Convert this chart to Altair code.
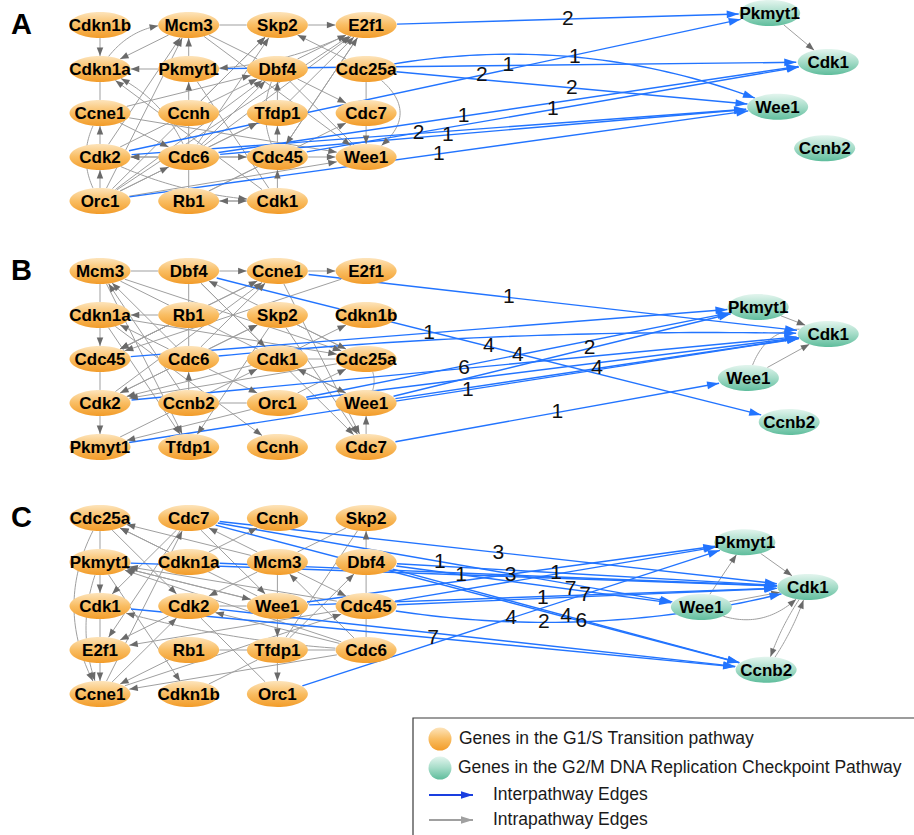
import math
import altair as alt
import pandas as pd

# ---------------------------------------------------------------------------
# Gene layout: G1/S genes sit in a grid (rows top to bottom, columns left to
# right); G2/M checkpoint genes sit to the right at fractional grid positions.
# ---------------------------------------------------------------------------
A_GRID = [
    ["Cdkn1b", "Mcm3", "Skp2", "E2f1"],
    ["Cdkn1a", "Pkmyt1", "Dbf4", "Cdc25a"],
    ["Ccne1", "Ccnh", "Tfdp1", "Cdc7"],
    ["Cdk2", "Cdc6", "Cdc45", "Wee1"],
    ["Orc1", "Rb1", "Cdk1"],
]
B_GRID = [
    ["Mcm3", "Dbf4", "Ccne1", "E2f1"],
    ["Cdkn1a", "Rb1", "Skp2", "Cdkn1b"],
    ["Cdc45", "Cdc6", "Cdk1", "Cdc25a"],
    ["Cdk2", "Ccnb2", "Orc1", "Wee1"],
    ["Pkmyt1", "Tfdp1", "Ccnh", "Cdc7"],
]
C_GRID = [
    ["Cdc25a", "Cdc7", "Ccnh", "Skp2"],
    ["Pkmyt1", "Cdkn1a", "Mcm3", "Dbf4"],
    ["Cdk1", "Cdk2", "Wee1", "Cdc45"],
    ["E2f1", "Rb1", "Tfdp1", "Cdc6"],
    ["Ccne1", "Cdkn1b", "Orc1"],
]

RIGHT_GENES = ["Pkmyt1", "Cdk1", "Wee1", "Ccnb2"]
A_RIGHT_COL = [7.55, 8.21, 7.64, 8.17]
A_RIGHT_ROW = [-0.27, 0.84, 1.86, 2.80]
B_RIGHT_COL = [7.42, 8.21, 7.31, 7.77]
B_RIGHT_ROW = [0.82, 1.43, 2.43, 3.43]
C_RIGHT_COL = [7.27, 7.98, 6.78, 7.51]
C_RIGHT_ROW = [0.55, 1.57, 2.02, 3.45]

# ---------------------------------------------------------------------------
# Edges: "Src>Dst" directed, "Src-Dst" undirected, "@n" bends the edge.
# A leading "*" marks a G2/M checkpoint gene.
# ---------------------------------------------------------------------------
A_INTRA = [
    "Cdkn1b>Cdkn1a", "Mcm3-Skp2", "Skp2>E2f1", "Pkmyt1>Mcm3", "Pkmyt1>Cdkn1a",
    "Cdkn1a>Mcm3@-16", "Cdk2>Mcm3", "Orc1>Mcm3", "Mcm3>Cdkn1a", "Cdc6>Cdkn1a@14",
    "Mcm3-Dbf4", "Mcm3>Wee1", "Ccnh>Pkmyt1", "Ccnh>Skp2", "Cdc6>Skp2",
    "E2f1>Pkmyt1@-12", "Cdc25a>Skp2", "Dbf4>E2f1", "Tfdp1>E2f1", "Cdc6>E2f1",
    "Cdc45>E2f1", "Orc1>E2f1", "E2f1>Cdc45", "Dbf4>Cdc7", "Dbf4-Wee1",
    "Cdc25a-Cdc7", "Cdc7>Wee1", "Cdc25a>Wee1@-34", "Rb1>Cdc7", "Tfdp1>Dbf4",
    "Cdc45>Tfdp1", "Cdc6>Dbf4", "Orc1>Dbf4", "Cdk2>Dbf4", "Dbf4-Cdc45@12",
    "Ccne1>Dbf4", "Cdc6>Tfdp1", "Ccne1>Wee1", "Cdk2>Ccne1", "Ccne1-Orc1@14",
    "Cdkn1a-Ccne1", "Cdk1>Cdkn1a", "Pkmyt1-Cdk1", "Ccnh-Cdc6", "Orc1>Cdc6",
    "Cdc6>Cdc45", "Cdc45>Wee1", "Orc1>Wee1", "Cdc6>Cdk2", "Cdc45>Cdk2",
    "Orc1>Cdk2", "Rb1>Cdk1", "Cdk1>Rb1", "Cdk1>Cdc45", "Rb1-Cdc6",
    "Rb1-Cdc45", "Orc1>Tfdp1", "Orc1>Skp2", "Cdk2>Cdk1@10", "Ccne1>Cdc6",
    "*Pkmyt1>*Cdk1",
]
A_INTER = [
    "E2f1>*Pkmyt1", "Cdk2>*Pkmyt1", "Pkmyt1>*Cdk1", "Cdc25a>*Wee1@-31",
    "Cdc25a>*Wee1", "Cdc6>*Cdk1", "Cdc45>*Cdk1", "Cdk2>*Wee1",
    "Cdc6>*Wee1", "Orc1>*Wee1",
]
A_WEIGHT = ["2", "2", "1", "1", "2", "1", "1", "2", "1", "1"]
A_LABEL_AT = [0.5, 0.57, 0.5, 0.5, 0.5, 0.43, 0.5, 0.47, 0.44, 0.5]

B_INTRA = [
    "Mcm3-Dbf4", "Dbf4>Ccne1", "Ccne1>E2f1", "Mcm3-Cdkn1a", "Cdkn1a>Cdc45",
    "Cdc45-Cdk2", "Cdk2>Pkmyt1", "Rb1>Cdkn1a", "Dbf4-Rb1", "Rb1-Cdc6",
    "Mcm3>Cdc25a", "Cdkn1a>Cdc25a", "Cdc6>Mcm3", "Ccnb2>Mcm3", "Dbf4>Cdk1",
    "Dbf4>Cdc7", "Cdc25a>Dbf4", "Cdc45>Ccne1", "Cdc6>Ccne1", "Cdk2>Ccne1",
    "Ccne1>Cdc45", "E2f1>Cdc45", "Cdk2>Skp2", "Skp2>Tfdp1", "Skp2>Cdc7",
    "Ccne1>Cdc7", "Cdk1>Cdkn1b", "Cdk1-Cdc25a", "Wee1>Cdk1", "Cdc6>Orc1",
    "Ccnb2>Cdc6", "Cdc6>Cdk2", "Cdk1>Cdk2", "Cdc25a>Cdk2", "Ccnb2-Orc1",
    "Cdkn1a>Tfdp1", "Cdkn1a>Ccnh", "Orc1>Pkmyt1", "Pkmyt1>Cdk1", "Cdc7>Wee1",
    "Cdc25a-Wee1@-8", "Cdc6>Cdkn1a", "Mcm3>Tfdp1", "Rb1>Cdc45", "Orc1>Cdc25a",
    "Mcm3>Wee1", "Cdc6>Skp2", "Skp2>Cdc25a",
    "*Pkmyt1>*Cdk1", "*Wee1>*Cdk1", "*Wee1-*Cdk1@-24",
]
B_INTER = [
    "Ccne1>*Cdk1", "Dbf4>*Ccnb2", "Cdc45>*Pkmyt1", "Wee1>*Pkmyt1",
    "Cdk2>*Cdk1", "Orc1>*Pkmyt1", "Wee1>*Cdk1", "Pkmyt1>*Cdk1",
    "Cdc7>*Wee1", "Cdc6>*Cdk1@-10", "Orc1>*Cdk1",
]
B_WEIGHT = ["1", "4", "1", "2", "6", "4", "4", "1", "1", "", ""]
B_LABEL_AT = [0.42, 0.5, 0.5, 0.57, 0.5, 0.5, 0.5, 0.505, 0.5, 0.5, 0.5]

C_INTRA = [
    "Cdc25a-Pkmyt1", "Pkmyt1>Cdk1", "Cdk1-E2f1", "E2f1>Ccne1", "Cdc25a>Ccne1@26",
    "Pkmyt1>Ccne1@14", "Cdkn1a>Cdc25a", "Mcm3>Cdc25a", "Wee1>Cdc25a", "Cdc25a>Cdk2",
    "Pkmyt1>Cdkn1b", "Cdc7>Cdk1", "Ccne1>Cdc7", "Cdc7>Wee1", "Mcm3>Cdc7",
    "Cdkn1a>Ccnh", "Skp2-Mcm3", "Skp2-Tfdp1", "Dbf4>Skp2", "Dbf4-Cdc45",
    "Cdc45-Cdc6", "Mcm3-Wee1", "Mcm3>Cdc45", "Mcm3>Cdk2", "Wee1>Pkmyt1",
    "Cdc45>Pkmyt1", "Cdc6>Pkmyt1", "Cdk2-Wee1", "Cdk2-Orc1", "Wee1>Tfdp1",
    "Tfdp1>Orc1", "Cdc6>Mcm3", "Cdc6>Cdk2", "Cdc6>Cdk1@-8", "Cdc45>E2f1",
    "Ccne1>Cdc45", "Ccne1>Cdk2", "Cdc6>Ccne1", "Rb1>Ccne1", "Tfdp1>Dbf4",
    "Rb1-Cdc6", "Cdkn1b-Tfdp1", "Cdc7>E2f1", "Pkmyt1>Wee1", "Cdk2>E2f1",
    "*Wee1>*Pkmyt1", "*Pkmyt1>*Cdk1", "*Wee1>*Cdk1", "*Wee1>*Cdk1@22",
    "*Cdk1>*Ccnb2@4", "*Ccnb2>*Cdk1@4",
]
C_INTER = [
    "Cdc7>*Cdk1", "Cdc7>*Wee1", "Pkmyt1>*Cdk1", "Cdkn1a>*Cdk1",
    "Dbf4>*Cdk1", "Dbf4>*Wee1", "Wee1>*Cdk1", "Cdc45>*Cdk1",
    "Orc1>*Pkmyt1", "Cdc45>*Cdk1@25", "Dbf4>*Ccnb2", "Cdc7>*Ccnb2",
    "Cdk1>*Ccnb2", "Wee1>*Pkmyt1", "Cdc45>*Pkmyt1", "Cdk2>*Ccnb2",
]
C_WEIGHT = ["3", "1", "1", "3", "1", "7", "7", "1", "4", "2", "4", "6", "7",
            "", "", ""]
C_LABEL_AT = [0.5, 0.49, 0.51, 0.52, 0.43, 0.61, 0.58, 0.4, 0.5, 0.4, 0.5,
              0.68, 0.5, 0.5, 0.5, 0.5]

LEGEND_TEXT = [
    "Genes in the G1/S Transition pathway",
    "Genes in the G2/M DNA Replication Checkpoint Pathway",
    "Interpathway Edges",
    "Intrapathway Edges",
]

# ---------------------------------------------------------------------------
# Drawing geometry
# ---------------------------------------------------------------------------
W, H = 914, 835
X0, COL_W, ROW_H = 100.0, 88.7, 44.0
PANEL_TOP = {"A": 25.0, "B": 271.0, "C": 518.0}
RX, RY = 30.5, 13.0  # node ellipse half axes

BLUE = "#2274ff"
LEGEND_BLUE = "#1a3fe0"
GRAY_LINE = "#9f9f9f"
GRAY_HEAD = "#6a6a6a"
FONT = "Liberation Sans"

ORANGE_FILL = alt.LinearGradient(
    gradient="linear", x1=0, x2=0, y1=0, y2=1,
    stops=[alt.GradientStop(color="#fde4bb", offset=0),
           alt.GradientStop(color="#f9bd62", offset=0.5),
           alt.GradientStop(color="#f29c2a", offset=1)])
TEAL_FILL = alt.LinearGradient(
    gradient="linear", x1=0, x2=0, y1=0, y2=1,
    stops=[alt.GradientStop(color="#e3f5ee", offset=0),
           alt.GradientStop(color="#a5dcc8", offset=0.5),
           alt.GradientStop(color="#5fbd9c", offset=1)])


def ellipse_path(ratio):
    k = 0.5523
    r = ratio
    return (f"M1,0 C1,{k*r:.4f} {k},{r:.4f} 0,{r:.4f} "
            f"C{-k},{r:.4f} -1,{k*r:.4f} -1,0 "
            f"C-1,{-k*r:.4f} {-k},{-r:.4f} 0,{-r:.4f} "
            f"C{k},{-r:.4f} 1,{-k*r:.4f} 1,0 Z")


NODE_SHAPE = ellipse_path(RY / RX)
NODE_SIZE = (2 * RX) ** 2
BLUE_HEAD = "M0,0 L-1,-0.32 L-1,0.32 Z"
GRAY_HEAD_SHAPE = "M0,0 L-1,-0.38 L-1,0.38 Z"

panels = [
    ("A", A_GRID, A_RIGHT_COL, A_RIGHT_ROW, A_INTRA, A_INTER, A_WEIGHT, A_LABEL_AT),
    ("B", B_GRID, B_RIGHT_COL, B_RIGHT_ROW, B_INTRA, B_INTER, B_WEIGHT, B_LABEL_AT),
    ("C", C_GRID, C_RIGHT_COL, C_RIGHT_ROW, C_INTRA, C_INTER, C_WEIGHT, C_LABEL_AT),
]

node_rows = []
pos = {}
for p, grid, rcol, rrow, *_ in panels:
    for r, genes in enumerate(grid):
        for c, g in enumerate(genes):
            x, y = X0 + c * COL_W, PANEL_TOP[p] + r * ROW_H
            pos[(p, g)] = (x, y)
            node_rows.append(dict(panel=p, gene=g, pathway="G1/S", x=x, y=y))
    for g, c, r in zip(RIGHT_GENES, rcol, rrow):
        x, y = X0 + c * COL_W, PANEL_TOP[p] + r * ROW_H
        pos[(p, "*" + g)] = (x, y)
        node_rows.append(dict(panel=p, gene=g, pathway="G2/M", x=x, y=y))
nodes = pd.DataFrame(node_rows)


def parse(spec):
    bend = 0.0
    if "@" in spec:
        spec, b = spec.split("@")
        bend = float(b)
    directed = ">" in spec
    src, dst = spec.split(">" if directed else "-")
    return src, dst, directed, bend


def bez(p0, c, p2, t):
    u = 1 - t
    return (u * u * p0[0] + 2 * u * t * c[0] + t * t * p2[0],
            u * u * p0[1] + 2 * u * t * c[1] + t * t * p2[1])


def inside(pt, ctr):
    return ((pt[0] - ctr[0]) / RX) ** 2 + ((pt[1] - ctr[1]) / RY) ** 2 < 1


line_rows, head_rows, label_rows = [], [], []
eid = 0
for p, grid, rcol, rrow, intra, inter, weights, label_at in panels:
    specs = [(s, "intra", "", 0.5) for s in intra]
    specs += [(s, "inter", w, t) for s, w, t in zip(inter, weights, label_at)]
    for spec, kind, weight, t_lab in specs:
        src, dst, directed, bend = parse(spec)
        p0, p2 = pos[(p, src)], pos[(p, dst)]
        dx, dy = p2[0] - p0[0], p2[1] - p0[1]
        length = math.hypot(dx, dy)
        nx, ny = -dy / length, dx / length
        ctrl = ((p0[0] + p2[0]) / 2 + 2 * bend * nx, (p0[1] + p2[1]) / 2 + 2 * bend * ny)
        n = 300
        pts = [bez(p0, ctrl, p2, i / n) for i in range(n + 1)]
        i0 = next(i for i, q in enumerate(pts) if not inside(q, p0))
        i1 = max(i for i, q in enumerate(pts) if not inside(q, p2))
        if bend == 0:
            keep = [pts[i0], pts[i1]]
        else:
            keep = pts[i0:i1 + 1:6] + [pts[i1]]
        for k, q in enumerate(keep):
            line_rows.append(dict(eid=eid, kind=kind, order=k, x=q[0], y=q[1]))
        if directed:
            back = pts[max(i0, i1 - 12)]
            ang = math.degrees(math.atan2(pts[i1][1] - back[1], pts[i1][0] - back[0])) % 360
            head_rows.append(dict(kind=kind, x=pts[i1][0], y=pts[i1][1], angle=ang))
        if weight:
            lx, ly = bez(p0, ctrl, p2, t_lab)
            label_rows.append(dict(text=weight, x=lx, y=ly))
        eid += 1

lines = pd.DataFrame(line_rows)
heads = pd.DataFrame(head_rows)
labels = pd.DataFrame(label_rows)
letters = pd.DataFrame(dict(text=list(PANEL_TOP), x=[11.0] * 3,
                            y=[PANEL_TOP[k] for k in PANEL_TOP]))

xs = alt.Scale(domain=[0, W], nice=False, zero=False)
ys = alt.Scale(domain=[0, H], nice=False, zero=False, reverse=True)
X = alt.X("x:Q", scale=xs, axis=None)
Y = alt.Y("y:Q", scale=ys, axis=None)

# ---------------------------------------------------------------------------
# Network layers
# ---------------------------------------------------------------------------
gray_lines = alt.Chart(lines[lines.kind == "intra"]).mark_line(
    color=GRAY_LINE, strokeWidth=1.0).encode(X, Y, detail="eid:N", order="order:Q")
blue_lines = alt.Chart(lines[lines.kind == "inter"]).mark_line(
    color=BLUE, strokeWidth=1.4).encode(X, Y, detail="eid:N", order="order:Q")
gray_heads = alt.Chart(heads[heads.kind == "intra"]).mark_point(
    shape=GRAY_HEAD_SHAPE, size=(2 * 8.5) ** 2, filled=True, fill=GRAY_HEAD,
    strokeWidth=0, opacity=1).encode(X, Y, angle=alt.Angle("angle:Q", scale=None))
blue_heads = alt.Chart(heads[heads.kind == "inter"]).mark_point(
    shape=BLUE_HEAD, size=(2 * 12) ** 2, filled=True, fill=BLUE,
    strokeWidth=0, opacity=1).encode(X, Y, angle=alt.Angle("angle:Q", scale=None))

g1s_nodes = alt.Chart(nodes[nodes.pathway == "G1/S"]).mark_point(
    shape=NODE_SHAPE, size=NODE_SIZE, filled=True, fill=ORANGE_FILL,
    strokeWidth=0, opacity=1).encode(X, Y)
g2m_nodes = alt.Chart(nodes[nodes.pathway == "G2/M"]).mark_point(
    shape=NODE_SHAPE, size=NODE_SIZE, filled=True, fill=TEAL_FILL,
    strokeWidth=0, opacity=1).encode(X, Y)
node_text = alt.Chart(nodes).mark_text(
    font=FONT, fontSize=17, fontWeight="bold", color="#000000",
    align="center", baseline="middle", dy=1).encode(X, Y, text="gene:N")

edge_text = alt.Chart(labels).mark_text(
    font=FONT, fontSize=21, color="#111111", align="center",
    baseline="middle").encode(X, Y, text="text:N")
letter_text = alt.Chart(letters).mark_text(
    font=FONT, fontSize=29, fontWeight="bold", color="#000000",
    align="left", baseline="middle").encode(X, Y, text="text:N")

# ---------------------------------------------------------------------------
# Legend box
# ---------------------------------------------------------------------------
LEG_LEFT, LEG_TOP = 413.0, 718.0
leg_box = alt.Chart(pd.DataFrame(dict(x=[LEG_LEFT], x2=[W + 10.0], y=[LEG_TOP], y2=[H + 10.0]))).mark_rect(
    fill="white", stroke="#3a3a3a", strokeWidth=1.2).encode(X, Y, x2="x2:Q", y2="y2:Q")

leg_y = [LEG_TOP + 21, LEG_TOP + 50, LEG_TOP + 77, LEG_TOP + 102]
leg_text_x = [LEG_LEFT + 46, LEG_LEFT + 45, LEG_LEFT + 80, LEG_LEFT + 80]
leg_text = alt.Chart(pd.DataFrame(dict(text=LEGEND_TEXT, x=leg_text_x, y=leg_y))).mark_text(
    font=FONT, fontSize=17.5, color="#1a1a1a", align="left", baseline="middle").encode(
    X, Y, text="text:N")
leg_orange = alt.Chart(pd.DataFrame(dict(x=[LEG_LEFT + 27], y=[leg_y[0]]))).mark_point(
    shape="circle", size=23 ** 2, filled=True, fill=ORANGE_FILL, strokeWidth=0,
    opacity=1).encode(X, Y)
leg_teal = alt.Chart(pd.DataFrame(dict(x=[LEG_LEFT + 27], y=[leg_y[1]]))).mark_point(
    shape="circle", size=23 ** 2, filled=True, fill=TEAL_FILL, strokeWidth=0,
    opacity=1).encode(X, Y)
leg_arrow_df = pd.DataFrame(dict(x=[LEG_LEFT + 16] * 2, x2=[LEG_LEFT + 60] * 2,
                                 y=leg_y[2:], kind=["inter", "intra"]))
leg_blue_rule = alt.Chart(leg_arrow_df[leg_arrow_df.kind == "inter"]).mark_rule(
    color=LEGEND_BLUE, strokeWidth=2.2).encode(X, Y, x2="x2:Q")
leg_gray_rule = alt.Chart(leg_arrow_df[leg_arrow_df.kind == "intra"]).mark_rule(
    color="#a0a0a0", strokeWidth=2.2).encode(X, Y, x2="x2:Q")
leg_blue_head = alt.Chart(leg_arrow_df[leg_arrow_df.kind == "inter"]).mark_point(
    shape=BLUE_HEAD, size=(2 * 12) ** 2, filled=True, fill=LEGEND_BLUE, strokeWidth=0,
    opacity=1).encode(alt.X("x2:Q", scale=xs, axis=None), Y)
leg_gray_head = alt.Chart(leg_arrow_df[leg_arrow_df.kind == "intra"]).mark_point(
    shape=BLUE_HEAD, size=(2 * 12) ** 2, filled=True, fill="#a0a0a0", strokeWidth=0,
    opacity=1).encode(alt.X("x2:Q", scale=xs, axis=None), Y)

chart = alt.layer(
    leg_box, gray_lines, blue_lines, gray_heads, blue_heads,
    g1s_nodes, g2m_nodes, node_text, edge_text, letter_text,
    leg_blue_rule, leg_gray_rule, leg_blue_head, leg_gray_head,
    leg_orange, leg_teal, leg_text,
).properties(
    width=W, height=H, padding=0, autosize=alt.AutoSizeParams(type="none"),
    background="white",
).configure_view(stroke=None)

chart.save("out.html", embed_options={"renderer": "svg", "actions": False})
